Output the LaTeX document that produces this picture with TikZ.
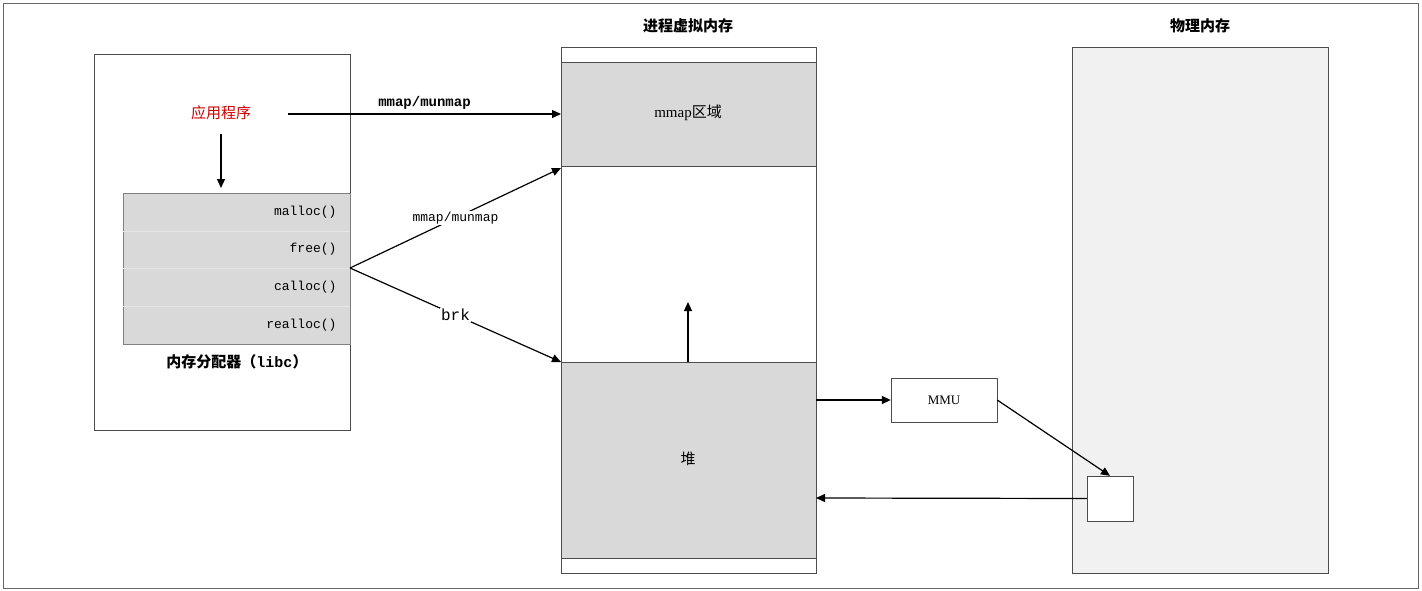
\documentclass[tikz,border=0pt]{standalone}
\usepackage{fontspec}
\setmainfont{Liberation Serif}
\setmonofont{Liberation Mono}
\newfontfamily\cjk{Noto Sans CJK SC}
\usetikzlibrary{arrows.meta}
\definecolor{gfill}{gray}{0.85}
\definecolor{pfill}{gray}{0.945}
\begin{document}
\begin{tikzpicture}[x=1pt,y=-1pt,
  arr/.style={draw,line width=1.2pt,-{Triangle[length=9pt,width=8pt]}},
  box/.style={draw=black!70,line width=0.6pt},
  fn/.style={font=\ttfamily\fontsize{13}{15}\selectfont,anchor=east},
  lbl/.style={font=\ttfamily\fontsize{13}{15}\selectfont,fill=white,inner sep=1pt}]
\useasboundingbox (0,0) rectangle (1422,590);
\draw[black!60] (3,3) rectangle (1418,588);
% left box
\draw[box] (94,54) rectangle (350,430);
\node[text=red!80!black,font=\cjk\fontsize{15}{17}\selectfont] (app) at (221,113) {应用程序};
\fill[gfill] (123,193) rectangle (350,344);
\draw[black!50] (123,193) rectangle (350,344);
\foreach \y in {231,268,306} \draw[white!80!gray] (123,\y) -- (350,\y);
\node[fn] (m1) at (340,212) {malloc()};
\node[fn] (m2) at (340,249) {free()};
\node[fn] (m3) at (340,287) {calloc()};
\node[fn] (m4) at (340,325) {realloc()};
\coordinate (alloc) at (350,268);
\coordinate (allocTop) at (221,188);
\node[font=\cjk\bfseries\fontsize{15}{17}\selectfont] (libc) at (237,362) {内存分配器（\texttt{libc}）};
% virtual memory
\node[font=\cjk\bfseries\fontsize{15}{17}\selectfont] (vt) at (688,26) {进程虚拟内存};
\draw[box] (561,47) rectangle (816,573);
\fill[gfill,draw=black!70] (561,62) rectangle (816,166);
\fill[gfill,draw=black!70] (561,362) rectangle (816,558);
\node[font=\fontsize{15}{17}\selectfont] (mm) at (688,113) {mmap\cjk 区域};
\node[font=\cjk\fontsize{15}{17}\selectfont] (heap) at (688,459) {堆};
\coordinate (mmapL) at (561,114);
\coordinate (mmapB) at (561,168);
\coordinate (heapL) at (561,362);
\coordinate (heapT) at (688,362);
\coordinate (up) at (688,302);
\coordinate (appR) at (288,114);
% physical
\node[font=\cjk\bfseries\fontsize{15}{17}\selectfont] (pt) at (1200,26) {物理内存};
\draw[box,fill=pfill] (1072,47) rectangle (1328,573);
\node[draw=black!70,fill=white,minimum width=46pt,minimum height=45pt,inner sep=0] (pg) at (1110,498.5) {};
\node[draw=black!70,minimum width=106pt,minimum height=44pt,inner sep=0,font=\fontsize{13}{15}\selectfont] (mmu) at (944,400) {MMU};
% arrows
\draw[arr] (app.south) ++(0,10) -- (allocTop);
\draw[arr] (appR) -- (mmapL) node[midway,above,font=\ttfamily\bfseries\fontsize{14}{16}\selectfont,yshift=1pt] {mmap/munmap};
\draw[arr] (alloc) -- (mmapB) node[lbl,pos=0.5] {mmap/munmap};
\draw[arr] (alloc) -- (heapL) node[lbl,pos=0.5,font=\ttfamily\fontsize{16}{18}\selectfont] {brk};
\draw[arr] (heapT) -- (up);
\draw[arr] (816,400) -- (mmu.west);
\draw[arr] (mmu.east) -- (pg.north);
\draw[arr] (pg.west) -- (816,498);
\end{tikzpicture}
\end{document}
